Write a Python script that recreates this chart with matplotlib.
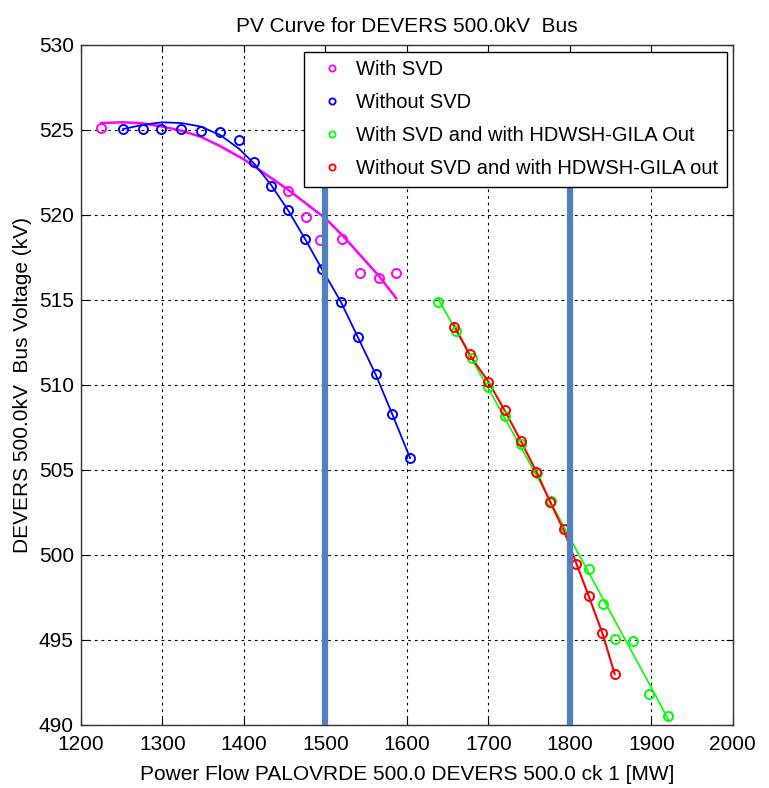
import matplotlib
matplotlib.use("Agg")
import matplotlib.pyplot as plt
from matplotlib.lines import Line2D

plt.rcParams['font.family'] = ['Liberation Sans', 'DejaVu Sans']
fs = 15

# With SVD (magenta)
svd_x = [1225, 1454, 1476, 1494, 1521, 1543, 1566, 1587]
svd_y = [525.1, 521.4, 519.9, 518.5, 518.6, 516.6, 516.3, 516.6]
svd_fit_x = [1225, 1250, 1274, 1300, 1324, 1347, 1371, 1399, 1413, 1454, 1500, 1521, 1566, 1587]
svd_fit_y = [525.4, 525.45, 525.4, 525.2, 524.95, 524.6, 524.05, 523.3, 522.85, 521.5, 519.8, 518.8, 516.4, 515.1]

# Without SVD (blue)
nosvd_x = [1252, 1276, 1299, 1323, 1347, 1371, 1394, 1413, 1433, 1454, 1475, 1496, 1519, 1540, 1562, 1582, 1604]
nosvd_y = [525.05, 525.05, 525.05, 525.05, 524.95, 524.9, 524.4, 523.1, 521.7, 520.3, 518.6, 516.8, 514.9, 512.8, 510.65, 508.3, 505.7]
nosvd_fit_x = [1252, 1276, 1300, 1324, 1347, 1371, 1394, 1413, 1433, 1454, 1475, 1496, 1519, 1540, 1562, 1582, 1604]
nosvd_fit_y = [525.05, 525.3, 525.45, 525.4, 525.2, 524.7, 523.9, 523.0, 521.8, 520.3, 518.6, 516.8, 514.9, 512.8, 510.6, 508.3, 505.7]

# With SVD and HDWSH-GILA out (green)
gila_x = [1638, 1660, 1680, 1700, 1720, 1740, 1760, 1777, 1794, 1824, 1841, 1856, 1878, 1897, 1920]
gila_y = [514.9, 513.2, 511.6, 509.9, 508.2, 506.5, 504.8, 503.2, 501.5, 499.2, 497.1, 495.05, 494.95, 491.85, 490.55]
gila_fit_x = [1638, 1700, 1760, 1800, 1850, 1900, 1921]
gila_fit_y = [515.1, 509.8, 504.6, 501.0, 496.6, 492.2, 490.3]

# Without SVD and HDWSH-GILA out (red)
nogila_x = [1658, 1678, 1700, 1720, 1740, 1759, 1776, 1793, 1808, 1823, 1840, 1855]
nogila_y = [513.4, 511.8, 510.2, 508.5, 506.7, 504.85, 503.1, 501.5, 499.45, 497.6, 495.4, 493.0]
nogila_fit_x = [1657, 1678, 1700, 1720, 1740, 1760, 1776, 1793, 1808, 1823, 1840, 1855]
nogila_fit_y = [513.6, 511.7, 510.2, 508.5, 506.7, 504.8, 503.1, 501.4, 499.5, 497.6, 495.4, 493.0]

limit_x = [1500, 1800]
limit_top = 522.0

fig = plt.figure(figsize=(7.69, 7.88), dpi=100)
ax = fig.add_axes([0.105, 0.080, 0.848, 0.863])

ax.plot(svd_fit_x, svd_fit_y, color='magenta', lw=1.8)
ax.plot(nosvd_fit_x, nosvd_fit_y, color='blue', lw=1.3)
ax.plot(gila_fit_x, gila_fit_y, color='lime', lw=1.2)
ax.plot(nogila_fit_x, nogila_fit_y, color='red', lw=1.5)

mk = dict(ls='none', marker='o', mfc='none', ms=6.5, mew=1.4)
ax.plot(svd_x, svd_y, color='magenta', **mk)
ax.plot(nosvd_x, nosvd_y, color='blue', **mk)
ax.plot(gila_x, gila_y, color='lime', **mk)
ax.plot(nogila_x, nogila_y, color='red', **mk)

for xv in limit_x:
    ax.plot([xv, xv], [490, limit_top], color='#4F81BD', lw=4.5, solid_capstyle='butt', zorder=5)

ax.set_xlim(1200, 2000)
ax.set_ylim(490, 530)
ax.set_xticks(range(1200, 2001, 100))
ax.set_yticks(range(490, 531, 5))
ax.grid(True, color='black', ls=(0, (2.5, 3.5)), lw=0.8)
ax.tick_params(direction='in', top=True, right=True, labelsize=fs, length=5)
ax.tick_params(axis='x', pad=7)
ax.tick_params(axis='y', pad=5)
for s in ax.spines.values():
    s.set_color('#333333')
    s.set_linewidth(1.0)

ax.set_title('PV Curve for DEVERS 500.0kV  Bus', fontsize=fs, pad=9)
ax.set_xlabel('Power Flow PALOVRDE 500.0 DEVERS 500.0 ck 1 [MW]', fontsize=fs, labelpad=8)
ax.set_ylabel('DEVERS 500.0kV  Bus Voltage (kV)', fontsize=fs)
ax.yaxis.set_label_coords(-0.074, 0.5)

labels = ['With SVD', 'Without SVD', 'With SVD and with HDWSH-GILA Out',
          'Without SVD and with HDWSH-GILA out']
colors = ['magenta', 'blue', 'lime', 'red']
handles = [Line2D([], [], ls='none', marker='o', mfc='none', ms=4.5, mew=1.3, color=c) for c in colors]
leg = ax.legend(handles, labels, loc='upper right', bbox_to_anchor=(0.991, 0.99),
                borderaxespad=0, fontsize=14.5, fancybox=False, framealpha=1, edgecolor='black',
                borderpad=0.42, labelspacing=0.7, handletextpad=0.2, handlelength=2.0)
leg.get_frame().set_linewidth(1.0)
leg.set_zorder(10)

fig.savefig('out.png', dpi=100)
